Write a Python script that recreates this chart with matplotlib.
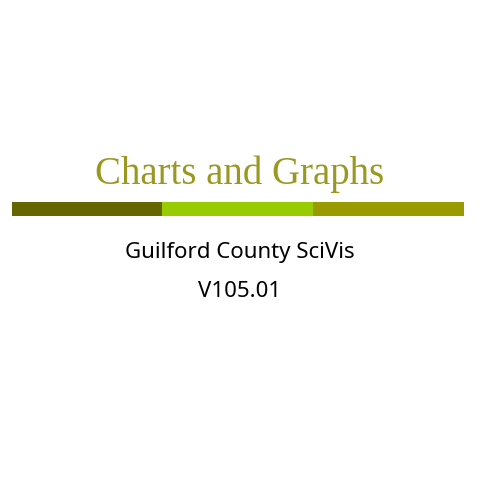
import matplotlib.pyplot as plt

# title slide text
title = "Charts and Graphs"
subtitle_lines = ["Guilford County SciVis", "V105.01"]

# the three coloured blocks of the rule under the title
seg_left = [12, 162, 313]
seg_width = [150, 151, 151]
seg_colors = ["#666600", "#99cc00", "#999900"]

fig = plt.figure(figsize=(4.8, 4.8), dpi=100)
ax = fig.add_axes([0, 0, 1, 1])
ax.set_xlim(0, 480)
ax.set_ylim(480, 0)
ax.axis("off")

ax.barh([209] * 3, seg_width, left=seg_left, height=14, color=seg_colors)

ax.text(240, 184, title, ha="center", va="baseline", fontsize=28,
        family="Liberation Serif", color="#999922")
ax.text(240, 258, subtitle_lines[0], ha="center", va="baseline",
        fontsize=16, family="Noto Sans", color="black")
ax.text(240, 297, subtitle_lines[1], ha="center", va="baseline",
        fontsize=16, family="Noto Sans", color="black")

fig.savefig("out.png", dpi=100)
